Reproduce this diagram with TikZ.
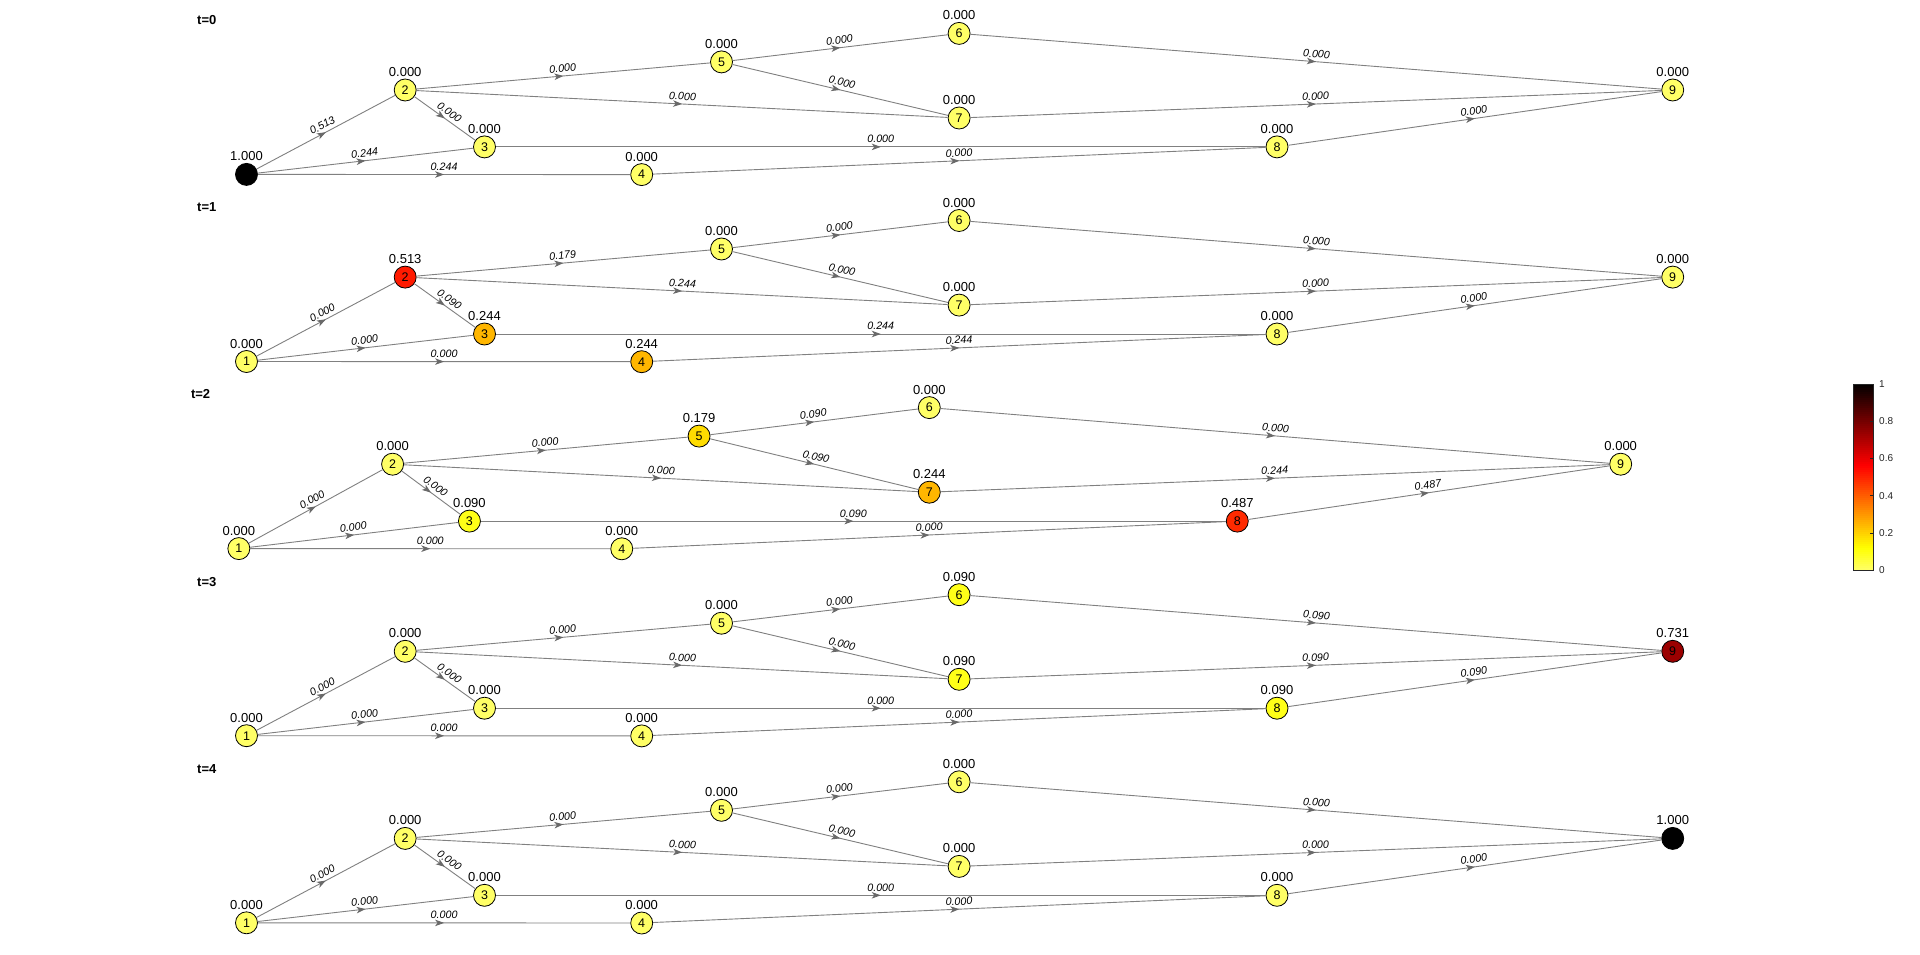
\documentclass[tikz,border=0pt]{standalone}
\usepackage{fontspec}
\setmainfont{Liberation Sans}
\usetikzlibrary{arrows.meta,decorations.markings}

\definecolor{c0}{RGB}{255,255,102}
\definecolor{c090}{RGB}{255,255,24}
\definecolor{c179}{RGB}{255,220,0}
\definecolor{c244}{RGB}{255,182,0}
\definecolor{c487}{RGB}{255,42,0}
\definecolor{c513}{RGB}{255,26,0}
\definecolor{c731}{RGB}{155,0,0}
\definecolor{c100}{RGB}{0,0,0}
\definecolor{edgegray}{RGB}{128,128,128}
\definecolor{arrowgray}{RGB}{105,105,105}
\definecolor{ticktext}{RGB}{38,38,38}

% base node positions (panel t=0), pixels, y downwards
\expandafter\def\csname nx1\endcsname{246.5}\expandafter\def\csname ny1\endcsname{174.4}
\expandafter\def\csname nx2\endcsname{405.2}\expandafter\def\csname ny2\endcsname{90.0}
\expandafter\def\csname nx3\endcsname{484.5}\expandafter\def\csname ny3\endcsname{146.9}
\expandafter\def\csname nx4\endcsname{641.7}\expandafter\def\csname ny4\endcsname{174.6}
\expandafter\def\csname nx5\endcsname{721.5}\expandafter\def\csname ny5\endcsname{61.9}
\expandafter\def\csname nx6\endcsname{959.1}\expandafter\def\csname ny6\endcsname{33.4}
\expandafter\def\csname nx7\endcsname{959.1}\expandafter\def\csname ny7\endcsname{118.0}
\expandafter\def\csname nx8\endcsname{1277.0}\expandafter\def\csname ny8\endcsname{146.9}
\expandafter\def\csname nx9\endcsname{1672.7}\expandafter\def\csname ny9\endcsname{90.0}

\tikzset{
  gnode/.style={circle, draw=black, line width=0.8pt, minimum size=22pt, inner sep=0pt,
    font=\fontsize{12.5}{13}\selectfont},
  gedge/.style={draw=edgegray, line width=0.9pt, postaction={decorate},
    decoration={markings, mark=at position 0.5 with {\arrow[arrowgray]{Stealth[length=9pt,width=6.5pt,inset=2.5pt]}}}},
  elabel/.style={sloped, above=3pt, inner sep=0.5pt, font=\fontsize{10.7}{12}\selectfont\itshape},
  vlabel/.style={anchor=base, inner sep=0pt, font=\fontsize{13}{14}\selectfont},
  tlabel/.style={anchor=base west, inner sep=0pt, font=\fontsize{13}{14}\selectfont\bfseries},
  cbtick/.style={anchor=west, inner sep=0pt, text=ticktext, font=\fontsize{10}{11}\selectfont},
}

% #1 prefix, #2 y offset, #3 x scale, #4 label, #5 node data id/value/colour, #6 edge data from/to/value
\newcommand{\drawpanel}[6]{%
  \node[tlabel] (#1t) at ({#3*197}, {#2+24.7}) {#4};
  \foreach \i/\v/\c in {#5} {
    \node[gnode, fill=\c] (#1n\i) at ({#3*\csname nx\i\endcsname}, {#2+\csname ny\i\endcsname}) {\i};
    \node[vlabel] (#1v\i) at ([yshift=13.5pt]#1n\i.center) {\v};
  }
  \foreach \a/\b/\v in {#6} {
    \draw[gedge] (#1n\a) -- node[elabel] (#1e\a\b) {\v} (#1n\b);
  }
}

\begin{document}
\begin{tikzpicture}[x=1pt, y=-1pt]
\fill[white] (0,0) rectangle (1920,955);
\useasboundingbox (0,0) rectangle (1920,955);

% t=0
\drawpanel{a}{0}{1}{t=0}
 {1/1.000/c100, 2/0.000/c0, 3/0.000/c0, 4/0.000/c0, 5/0.000/c0, 6/0.000/c0, 7/0.000/c0, 8/0.000/c0, 9/0.000/c0}
 {1/2/0.513, 1/3/0.244, 1/4/0.244, 2/3/0.000, 2/5/0.000, 2/7/0.000, 3/8/0.000, 4/8/0.000, 5/6/0.000, 5/7/0.000, 6/9/0.000, 7/9/0.000, 8/9/0.000}

% t=1
\drawpanel{b}{187.1}{1}{t=1}
 {1/0.000/c0, 2/0.513/c513, 3/0.244/c244, 4/0.244/c244, 5/0.000/c0, 6/0.000/c0, 7/0.000/c0, 8/0.000/c0, 9/0.000/c0}
 {1/2/0.000, 1/3/0.000, 1/4/0.000, 2/3/0.090, 2/5/0.179, 2/7/0.244, 3/8/0.244, 4/8/0.244, 5/6/0.000, 5/7/0.000, 6/9/0.000, 7/9/0.000, 8/9/0.000}

% t=2
\drawpanel{c}{374.2}{0.9689}{t=2}
 {1/0.000/c0, 2/0.000/c0, 3/0.090/c090, 4/0.000/c0, 5/0.179/c179, 6/0.000/c0, 7/0.244/c244, 8/0.487/c487, 9/0.000/c0}
 {1/2/0.000, 1/3/0.000, 1/4/0.000, 2/3/0.000, 2/5/0.000, 2/7/0.000, 3/8/0.090, 4/8/0.000, 5/6/0.090, 5/7/0.090, 6/9/0.000, 7/9/0.244, 8/9/0.487}

% t=3
\drawpanel{d}{561.3}{1}{t=3}
 {1/0.000/c0, 2/0.000/c0, 3/0.000/c0, 4/0.000/c0, 5/0.000/c0, 6/0.090/c090, 7/0.090/c090, 8/0.090/c090, 9/0.731/c731}
 {1/2/0.000, 1/3/0.000, 1/4/0.000, 2/3/0.000, 2/5/0.000, 2/7/0.000, 3/8/0.000, 4/8/0.000, 5/6/0.000, 5/7/0.000, 6/9/0.090, 7/9/0.090, 8/9/0.090}

% t=4
\drawpanel{e}{748.4}{1}{t=4}
 {1/0.000/c0, 2/0.000/c0, 3/0.000/c0, 4/0.000/c0, 5/0.000/c0, 6/0.000/c0, 7/0.000/c0, 8/0.000/c0, 9/1.000/c100}
 {1/2/0.000, 1/3/0.000, 1/4/0.000, 2/3/0.000, 2/5/0.000, 2/7/0.000, 3/8/0.000, 4/8/0.000, 5/6/0.000, 5/7/0.000, 6/9/0.000, 7/9/0.000, 8/9/0.000}

% colorbar
\foreach \i in {0,...,92} {
  \pgfmathsetmacro\cbv{(\i+0.5)/93}
  \pgfmathsetmacro\cbt{(1-\cbv)*0.85}
  \pgfmathsetmacro\cbr{min(1,\cbt/0.375)}
  \pgfmathsetmacro\cbg{max(0,min(1,(\cbt-0.375)/0.375))}
  \pgfmathsetmacro\cbb{max(0,(\cbt-0.75)/0.25)}
  \definecolor{cbc}{rgb}{\cbr,\cbg,\cbb}
  \fill[cbc] (1853,{570-\i*2+0.3}) rectangle (1873,{570-(\i+1)*2-0.3});
}
\draw[line width=0.6pt, black!85] (1853,384) rectangle (1873,570);
\foreach \v/\l in {0/0, 0.2/0.2, 0.4/0.4, 0.6/0.6, 0.8/0.8, 1/1} {
  \draw[line width=0.5pt, black!85] (1873,{570-\v*186}) -- (1870,{570-\v*186});
  \node[cbtick] (cb\l) at (1879,{570-\v*186}) {\l};
}
\end{tikzpicture}
\end{document}
